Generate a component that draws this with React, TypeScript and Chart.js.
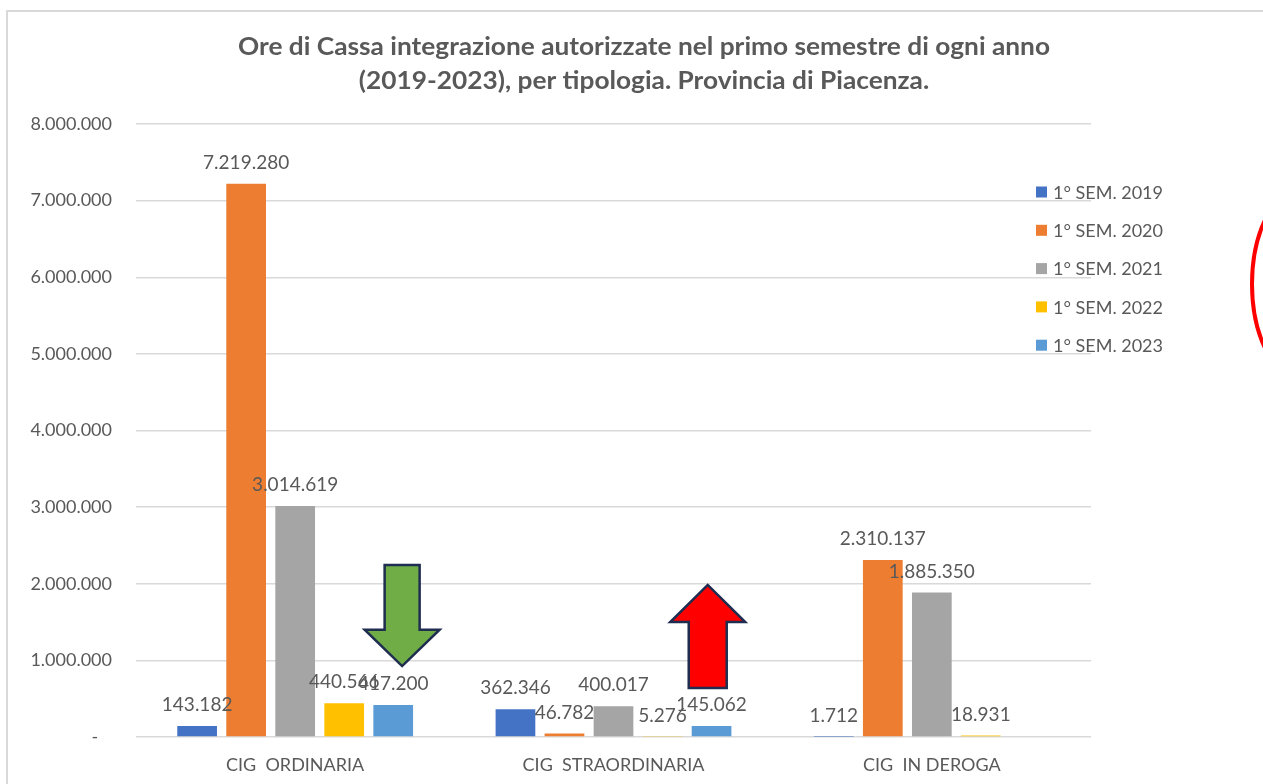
import React, { useEffect, useRef } from "react";
import { Chart, registerables } from "chart.js";

Chart.register(...registerables);

const titleLines = [
  "Ore di Cassa integrazione autorizzate nel primo semestre di ogni anno",
  "(2019-2023), per tipologia. Provincia di Piacenza.",
];
const categories = ["CIG  ORDINARIA", "CIG  STRAORDINARIA", "CIG  IN DEROGA"];
const seriesLabels = ["1° SEM. 2019", "1° SEM. 2020", "1° SEM. 2021", "1° SEM. 2022", "1° SEM. 2023"];
const sem2019 = [143182, 362346, 1712];
const sem2020 = [7219280, 46782, 2310137];
const sem2021 = [3014619, 400017, 1885350];
const sem2022 = [440566, 5276, 18931];
const sem2023 = [417200, 145062, null];
const seriesColors = ["#4472C4", "#ED7D31", "#A5A5A5", "#FFC000", "#5B9BD5"];
const yTickLabels = [
  "-   ",
  "1.000.000",
  "2.000.000",
  "3.000.000",
  "4.000.000",
  "5.000.000",
  "6.000.000",
  "7.000.000",
  "8.000.000",
];

const TEXT = "#595959";
const FONT = "Lato, 'Noto Sans', sans-serif";

function fmt(v: number): string {
  return String(Math.round(v)).replace(/\B(?=(\d{3})+(?!\d))/g, ".");
}

function arrow(
  ctx: CanvasRenderingContext2D,
  cx: number,
  tailY: number,
  headBaseY: number,
  tipY: number,
  shaftHalf: number,
  headHalf: number,
  fill: string
) {
  ctx.beginPath();
  ctx.moveTo(cx - shaftHalf, tailY);
  ctx.lineTo(cx + shaftHalf, tailY);
  ctx.lineTo(cx + shaftHalf, headBaseY);
  ctx.lineTo(cx + headHalf, headBaseY);
  ctx.lineTo(cx, tipY);
  ctx.lineTo(cx - headHalf, headBaseY);
  ctx.lineTo(cx - shaftHalf, headBaseY);
  ctx.closePath();
  ctx.fillStyle = fill;
  ctx.fill();
  ctx.lineWidth = 2.5;
  ctx.lineJoin = "miter";
  ctx.strokeStyle = "#1F2D50";
  ctx.stroke();
}

const decor = {
  id: "decor",
  beforeDraw(chart: any) {
    const ctx = chart.ctx as CanvasRenderingContext2D;
    ctx.save();
    ctx.fillStyle = "#ffffff";
    ctx.fillRect(0, 0, chart.width, chart.height);
    ctx.strokeStyle = "#d9d9d9";
    ctx.lineWidth = 2;
    ctx.beginPath();
    ctx.moveTo(7, chart.height);
    ctx.lineTo(7, 11);
    ctx.lineTo(chart.width, 11);
    ctx.stroke();
    ctx.restore();
  },
  afterDraw(chart: any) {
    const ctx = chart.ctx as CanvasRenderingContext2D;
    const xs = chart.scales.x;
    const ys = chart.scales.y;
    ctx.save();

    // title (slightly condensed, like the original's narrow bold face)
    ctx.fillStyle = TEXT;
    ctx.textAlign = "center";
    ctx.textBaseline = "middle";
    ctx.font = `bold 24px ${FONT}`;
    const w0 = ctx.measureText(titleLines[0]).width;
    const sx = 812 / w0;
    ctx.save();
    ctx.translate(644, 0);
    ctx.scale(sx, 1);
    ctx.fillText(titleLines[0], 0, 47);
    ctx.fillText(titleLines[1], 0, 81);
    ctx.restore();

    // data labels
    ctx.font = `19px ${FONT}`;
    ctx.fillStyle = TEXT;
    chart.data.datasets.forEach((ds: any, i: number) => {
      const meta = chart.getDatasetMeta(i);
      meta.data.forEach((bar: any, j: number) => {
        const v = ds.data[j];
        if (v == null) return;
        ctx.fillText(fmt(v), bar.x, bar.y - 21);
      });
    });

    // legend
    ctx.font = `18px ${FONT}`;
    ctx.textAlign = "left";
    seriesLabels.forEach((lab, i) => {
      const y = 192 + i * 38.3;
      ctx.fillStyle = seriesColors[i];
      ctx.fillRect(1036, y - 5.5, 11, 11);
      ctx.fillStyle = TEXT;
      ctx.fillText(lab, 1053, y + 1);
    });

    // arrows (anchored to scales)
    const cw = xs.getPixelForValue(1) - xs.getPixelForValue(0);
    const gx = xs.getPixelForValue(0) + 0.336 * cw;
    arrow(ctx, gx, ys.getPixelForValue(2245000), ys.getPixelForValue(1400000), ys.getPixelForValue(925000), 17.5, 37.5, "#70AD47");
    const rx = xs.getPixelForValue(1) + 0.296 * cw;
    arrow(ctx, rx, ys.getPixelForValue(640000), ys.getPixelForValue(1500000), ys.getPixelForValue(1985000), 19, 37.5, "#FF0000");

    // red ellipse at right edge
    ctx.beginPath();
    ctx.ellipse(1312, 284, 60, 103, 0, 0, Math.PI * 2);
    ctx.strokeStyle = "#FF0000";
    ctx.lineWidth = 4;
    ctx.stroke();

    ctx.restore();
  },
};

export default function App() {
  const ref = useRef<HTMLCanvasElement | null>(null);
  useEffect(() => {
    if (!ref.current) return;
    const series = [sem2019, sem2020, sem2021, sem2022, sem2023];
    const chart = new Chart(ref.current, {
      type: "bar",
      data: {
        labels: categories,
        datasets: series.map((d, i) => ({
          label: seriesLabels[i],
          data: d,
          backgroundColor: seriesColors[i],
          borderWidth: 0,
        })),
      },
      options: {
        responsive: false,
        animation: false,
        layout: { padding: { top: 124, right: 172, left: 0, bottom: 0 } },
        datasets: { bar: { categoryPercentage: 0.77, barPercentage: 0.81 } },
        plugins: {
          legend: { display: false },
          title: { display: false },
          tooltip: { enabled: false },
        },
        scales: {
          x: {
            grid: { display: false },
            border: { display: false },
            ticks: { color: TEXT, font: { family: FONT, size: 18 }, padding: 9 },
            afterFit: (s: any) => {
              s.height = 47;
            },
          },
          y: {
            min: 0,
            max: 8000000,
            grid: { color: "#d9d9d9", lineWidth: 1.5, drawTicks: false },
            border: { display: false },
            ticks: {
              stepSize: 1000000,
              color: TEXT,
              font: { family: FONT, size: 18 },
              padding: 24,
              callback: (_v: any, i: number) => yTickLabels[i],
            },
            afterFit: (s: any) => {
              s.width = 136;
            },
          },
        },
      },
      plugins: [decor],
    } as any);
    return () => chart.destroy();
  }, []);
  return (
    <div style={{ position: "absolute", left: 0, top: 0, width: 1263, height: 784 }}>
      <canvas ref={ref} width={1263} height={784} style={{ display: "block" }} />
    </div>
  );
}
